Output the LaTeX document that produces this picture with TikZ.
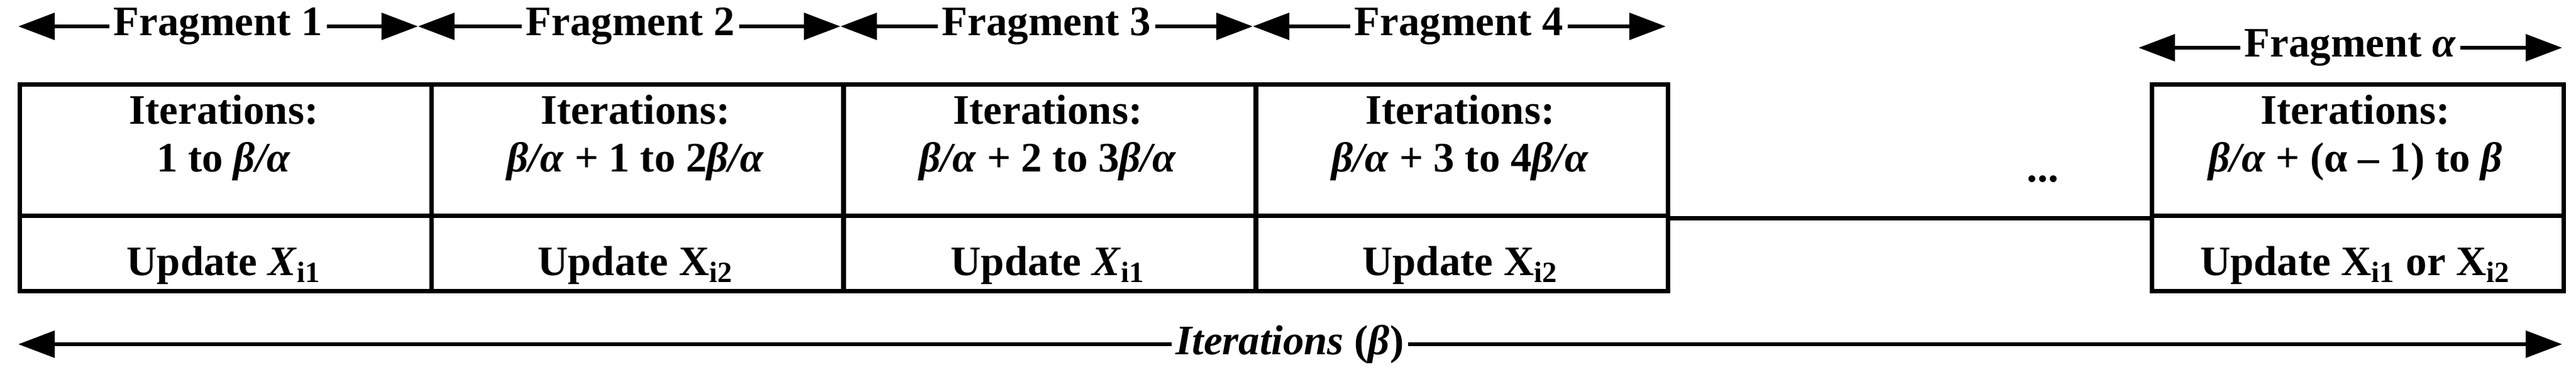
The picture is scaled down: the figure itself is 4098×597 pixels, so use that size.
\documentclass[tikz,border=0pt]{standalone}
\usepackage{fontspec}
\setmainfont{Liberation Serif}
\usetikzlibrary{arrows.meta}
\begin{document}
\begin{tikzpicture}[x=0.01cm,y=-0.01cm,
  cell/.style={draw,line width=2pt,inner sep=0pt,anchor=north west},
  txt/.style={font=\fontsize{19}{23}\selectfont\bfseries,inner sep=0pt},
  frag/.style={line width=1.8pt,{Triangle[length=0.58cm,width=0.42cm]}-{Triangle[length=0.58cm,width=0.42cm]}},
  flab/.style={txt,fill=white,inner xsep=2pt}]
\useasboundingbox (0,0) rectangle (4098,597);
% cells
\foreach \i/\x in {1/28,2/683,3/1339,4/1995,5/3420}{
  \node[cell,minimum width=6.55cm,minimum height=2.09cm] (t\i) at (\x,131) {};
  \node[cell,minimum width=6.55cm,minimum height=1.20cm] (b\i) at (\x,340) {};
}
\draw[line width=2pt] (t4.south east) -- (t5.south west);
% texts
\foreach \i/\x in {1/356,2/1011,3/1667,4/2323,5/3747}{
  \node[txt] (h\i) at (\x,175) {Iterations:};
}
\node[txt] (l1) at (356,257) {1 to \textit{β/α}};
\node[txt] (l2) at (1011,257) {\textit{β/α} + 1 to 2\textit{β/α}};
\node[txt] (l3) at (1667,257) {\textit{β/α} + 2 to 3\textit{β/α}};
\node[txt] (l4) at (2323,257) {\textit{β/α} + 3 to 4\textit{β/α}};
\node[txt] (l5) at (3747,257) {\textit{β/α} + (α – 1) to \textit{β}};
\node[txt] (u1) at (356,422) {Update \textit{X}\textsubscript{i1}};
\node[txt] (u2) at (1011,422) {Update X\textsubscript{i2}};
\node[txt] (u3) at (1667,422) {Update \textit{X}\textsubscript{i1}};
\node[txt] (u4) at (2323,422) {Update X\textsubscript{i2}};
\node[txt] (u5) at (3747,422) {Update X\textsubscript{i1} or X\textsubscript{i2}};
\node[txt] (dots) at (3250,285) {...};
% fragment arrows
\foreach \i/\a/\b in {1/29/665,2/665/1337,3/1337/1993,4/1993/2650}{
  \coordinate (fa\i) at (\a,42); \coordinate (fb\i) at (\b,42);
  \draw[frag] (fa\i) -- (fb\i);
}
\node[flab] (f1) at (347,42) {Fragment 1};
\node[flab] (f2) at (1003,42) {Fragment 2};
\node[flab] (f3) at (1665,42) {Fragment 3};
\node[flab] (f4) at (2321,42) {Fragment 4};
\coordinate (fa5) at (3402,76); \coordinate (fb5) at (4076,76);
\draw[frag] (fa5) -- (fb5);
\node[flab] (f5) at (3739,76) {Fragment \textit{α}};
% bottom
\coordinate (ia) at (29,548); \coordinate (ib) at (4076,548);
\draw[frag] (ia) -- (ib);
\node[flab] (it) at (2052,548) {\textit{Iterations} (\textit{β})};
\end{tikzpicture}
\end{document}
